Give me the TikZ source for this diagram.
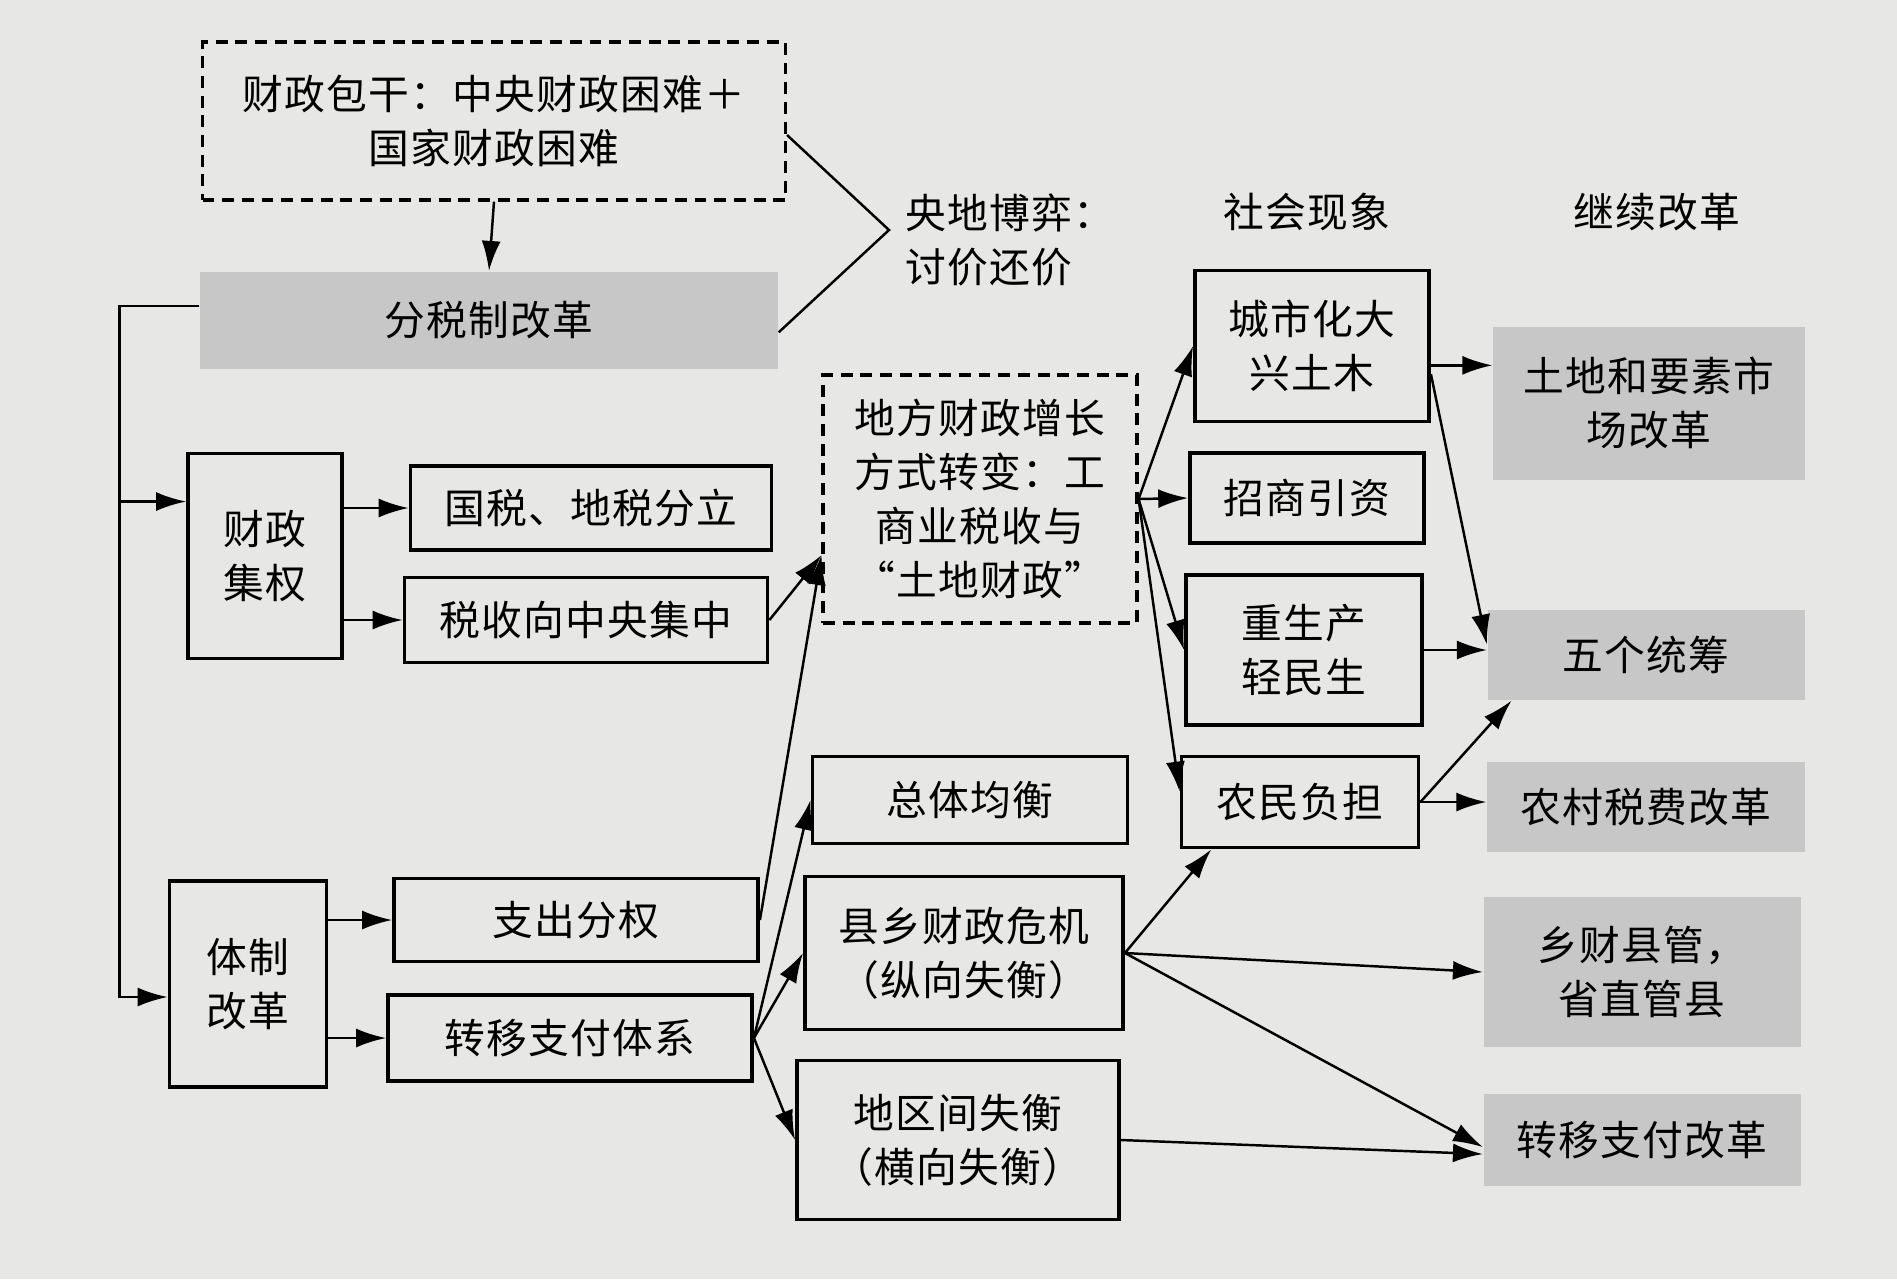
\documentclass[tikz,border=0pt]{standalone}
\usepackage{fontspec}
\setmainfont{Noto Sans CJK SC}[LetterSpace=3]
\usetikzlibrary{arrows.meta}
\tikzset{>={Latex[length=8.5pt,width=5.4pt]}}
\definecolor{paper}{RGB}{231,231,229}
\definecolor{shade}{RGB}{199,199,199}

\begin{document}
\begin{tikzpicture}[x=0.1mm,y=-0.1mm,
    every node/.style={font=\fontsize{11.6}{15.3}\selectfont,align=center,inner sep=0pt},
    box/.style={draw,line width=1.1pt},
    dbox/.style={draw,line width=0.9pt,dash pattern=on 3.4pt off 2.2pt},
    gbox/.style={fill=shade},
    link/.style={->,line width=0.7pt}]
  % page
  \fill[paper] (0,0) rectangle (1897,1279);
  % top part
  \node[dbox,minimum width=58.3mm,minimum height=15.8mm] (bg) at (494,121)
       {财政包干：中央财政困难＋\\国家财政困难};
  \node[gbox,minimum width=57.8mm,minimum height=9.7mm] (fsz) at (489,320) {分税制改革};
  \node[anchor=west,align=left] (game) at (905,240) {央地博弈：\\讨价还价};
  \coordinate (tip) at (889,230);
  \draw[line width=0.7pt] ([yshift=-4pt]bg.east) -- (tip) -- ([yshift=-3.5pt]fsz.east);
  \draw[link] (bg.south) -- (fsz.north);
  % headers
  \node (h1) at (1307,212) {社会现象};
  \node (h2) at (1657,212) {继续改革};
  % left column
  \node[box,minimum width=15.4mm,minimum height=20.5mm] (cz) at (265,556) {财政\\集权};
  \node[box,minimum width=15.7mm,minimum height=20.6mm] (tz) at (248,984) {体制\\改革};
  \node[box,minimum width=36.1mm,minimum height=8.4mm] (gs) at (591,508) {国税、地税分立};
  \node[box,minimum width=36.3mm,minimum height=8.5mm] (ss) at (586,620) {税收向中央集中};
  \node[box,minimum width=36.4mm,minimum height=8.3mm] (zc) at (576,920) {支出分权};
  \node[box,minimum width=36.4mm,minimum height=8.6mm] (zy) at (570,1038) {转移支付体系};
  % middle column
  \node[dbox,minimum width=31.4mm,minimum height=24.8mm] (df) at (980,499)
       {地方财政增长\\方式转变：工\\商业税收与\\“土地财政”};
  \node[box,minimum width=31.5mm,minimum height=8.7mm] (zt) at (970,800) {总体均衡};
  \node[box,minimum width=31.8mm,minimum height=15.3mm] (xx) at (964,953) {县乡财政危机\\（纵向失衡）};
  \node[box,minimum width=32.2mm,minimum height=15.9mm] (dq) at (958,1140) {地区间失衡\\（横向失衡）};
  % social phenomena
  \node[box,minimum width=23.4mm,minimum height=15.1mm] (cs) at (1312,346) {城市化大\\兴土木};
  \node[box,minimum width=23.4mm,minimum height=9.0mm] (zs) at (1307,498) {招商引资};
  \node[box,minimum width=23.6mm,minimum height=15.0mm] (zsc) at (1304,650) {重生产\\轻民生};
  \node[box,minimum width=23.7mm,minimum height=9.1mm] (nm) at (1300,802) {农民负担};
  % further reforms
  \node[gbox,minimum width=31.2mm,minimum height=15.3mm] (td) at (1649,403) {土地和要素市\\场改革};
  \node[gbox,minimum width=31.7mm,minimum height=9.0mm] (wg) at (1646,655) {五个统筹};
  \node[gbox,minimum width=31.8mm,minimum height=9.0mm] (nc) at (1646,807) {农村税费改革};
  \node[gbox,minimum width=31.7mm,minimum height=15.0mm] (xc) at (1642,972) {乡财县管，\\省直管县};
  \node[gbox,minimum width=31.7mm,minimum height=9.2mm] (zyg) at (1642,1140) {转移支付改革};
  % left loop
  \draw[link] ([yshift=4pt]fsz.west) -- ++(-80,0) coordinate (lp) |- ([yshift=15.5pt]cz.west);
  \draw[link] (lp) |- ([yshift=-3.7pt]tz.west);
  \draw[link] (cz.east |- gs.west) -- (gs.west);
  \draw[link] (cz.east |- ss.west) -- (ss.west);
  \draw[link] (tz.east |- zc.west) -- (zc.west);
  \draw[link] (tz.east |- zy.west) -- (zy.west);
  % into local finance
  \draw[link] (ss.east) -- ([yshift=-16pt]df.west);
  \draw[link] (zc.east) -- ([yshift=-16pt]df.west);
  % transfers
  \draw[link] (zy.east) -- (zt.west);
  \draw[link] (zy.east) -- (xx.west);
  \draw[link] (zy.east) -- (dq.west);
  % local finance fan
  \draw[link] (df.east) -- (cs.west);
  \draw[link] (df.east) -- (zs.west);
  \draw[link] (df.east) -- (zsc.west);
  \draw[link] (df.east) -- ([yshift=3pt]nm.west);
  % to reforms
  \path ([yshift=-5.5pt]cs.east) coordinate (csout);
  \draw[link] (csout) -- (csout -| td.west);
  \draw[link] ([yshift=-8pt]cs.east) -- ([yshift=3pt]wg.west);
  \draw[link] (zsc.east) -- (zsc.east -| wg.west);
  \draw[link] (nm.east) -- ([xshift=7pt]wg.south west);
  \draw[link] (nm.east) -- (nm.east -| nc.west);
  \draw[link] (xx.east) -- ([xshift=9pt]nm.south west);
  \draw[link] (xx.east) -- (xc.west);
  \draw[link] (xx.east) -- ([yshift=-2pt]zyg.west);
  \draw[link] (dq.east) -- ([yshift=-4pt]zyg.west);
\end{tikzpicture}
\end{document}
